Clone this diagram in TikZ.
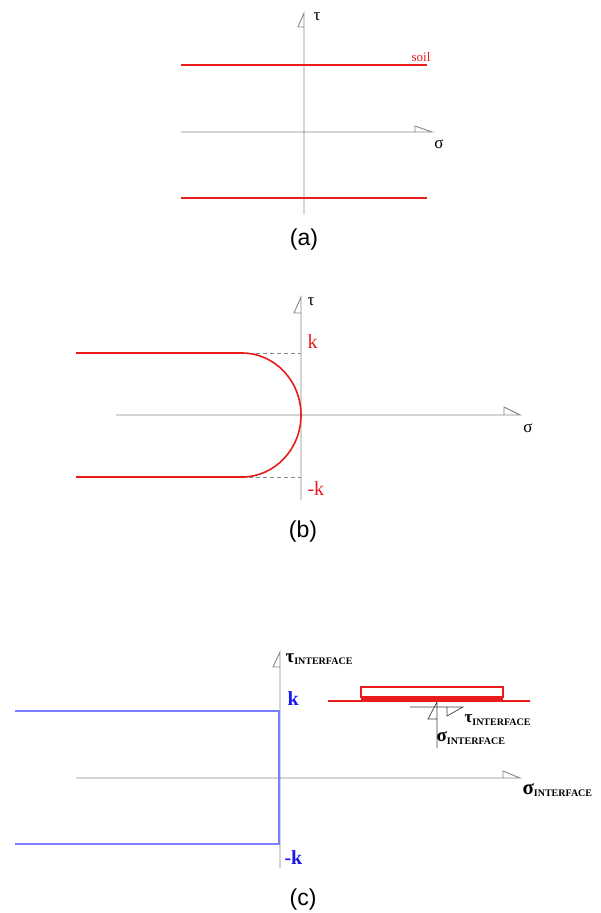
\documentclass[tikz,border=0pt]{standalone}
\usepackage{fontspec}
\setmainfont{Liberation Serif}
\newfontfamily\captionfont{Liberation Sans}
\definecolor{axisgray}{RGB}{135,135,135}
\definecolor{soilred}{RGB}{232,28,28}
\definecolor{ifaceblue}{RGB}{125,125,255}
\definecolor{kblue}{RGB}{25,25,235}
\newcommand{\iface}[1]{\textbf{#1\raisebox{-2.5pt}{\fontsize{10}{11}\selectfont INTERFACE}}}

\begin{document}
\begin{tikzpicture}[x=1pt, y=-1pt,
  axis/.style={draw=axisgray, line width=0.9pt},
  soil/.style={draw=soilred, line width=1.8pt},
  guide/.style={draw=axisgray, line width=0.8pt, dashed, dash pattern=on 4pt off 3pt},
  limit/.style={draw=ifaceblue, line width=1.3pt},
  greek/.style={font=\fontsize{17}{19}\selectfont},
  caption/.style={font=\captionfont\fontsize{23}{26}\selectfont}]
  \useasboundingbox (0,0) rectangle (600,913);

  % (a) soil
  \coordinate (aT) at (304,13);
  \coordinate (aB) at (304,214);
  \coordinate (aL) at (181,132);
  \coordinate (aR) at (432,132);
  \draw[axis] (aB) -- (aT) -- ++(-6,14) -- ++(6,0);
  \draw[axis] (aL) -- (aR) -- ++(-17,-6) -- ++(0,6);
  \draw[soil] (181,65) coordinate (aU1) -- (427,65) coordinate (aU2);
  \draw[soil] (181,198) coordinate (aD1) -- (427,198) coordinate (aD2);
  \node[greek, anchor=west] (tauA) at (310,17) {τ};
  \node[greek] (sigA) at (439,144) {σ};
  \node[text=soilred, font=\fontsize{13}{15}\selectfont] (soilA) at (421,57) {soil};
  \node[caption] (capA) at (304,240) {(a)};

  % (b) bounded shear
  \coordinate (bT) at (301,297);
  \coordinate (bB) at (301,500);
  \coordinate (bL) at (116,415);
  \coordinate (bR) at (520,415);
  \draw[axis] (bB) -- (bT) -- ++(-7,16) -- ++(7,0);
  \draw[axis] (bL) -- (bR) -- ++(-16,-8) -- ++(0,8);
  \coordinate (bU) at (242,353);
  \coordinate (bD) at (242,477);
  \draw[guide] (bU) -- (301,353);
  \draw[guide] (bD) -- (301,477);
  \draw[soil, line width=1.6pt] (76,353) -- (bU)
    arc[start angle=-90, end angle=90, x radius=59, y radius=62] -- (76,477);
  \node[greek, anchor=west] (tauB) at (304,302) {τ};
  \node[greek] (sigB) at (528,428) {σ};
  \node[text=soilred, anchor=west, font=\fontsize{20}{22}\selectfont] (kB) at (304,342) {k};
  \node[text=soilred, anchor=west, font=\fontsize{20}{22}\selectfont] (mkB) at (304,489) {-k};
  \node[caption] (capB) at (303,532) {(b)};

  % (c) interface
  \coordinate (cT) at (280,652);
  \coordinate (cB) at (280,868);
  \coordinate (cL) at (76,778);
  \coordinate (cR) at (520,778);
  \draw[axis] (cB) -- (cT) -- ++(-7,15) -- ++(7,0);
  \draw[axis] (cL) -- (cR) -- ++(-17,-7) -- ++(0,7);
  \draw[limit] (15,711) -- (279,711) -- (279,844) -- (15,844);
  \node[anchor=west, font=\fontsize{19}{21}\selectfont] (tauC) at (282,659) {\iface{τ}};
  \node[anchor=west, font=\fontsize{21}{23}\selectfont] (sigC) at (519,790) {\iface{σ}};
  \node[text=kblue, anchor=west, font=\fontsize{20}{22}\selectfont\bfseries] (kC) at (284,699) {k};
  \node[text=kblue, anchor=west, font=\fontsize{20}{22}\selectfont\bfseries] (mkC) at (281,858) {-k};
  % interface element
  \draw[color=soilred, line width=1.1pt] (328,701) -- (530,701);
  \draw[color=soilred, line width=1.1pt] (361,687) rectangle (503,697);
  \fill[soilred] (361,697) rectangle (503,701.5);
  \draw[black!75, line width=0.7pt] (410,707) -- (463,707) -- ++(-16,9) -- ++(0,-9);
  \draw[black!75, line width=0.7pt] (437,748) -- (437,702) -- ++(-9,17) -- ++(9,0);
  \node[anchor=west, font=\fontsize{17}{19}\selectfont] (tauE) at (461,720) {\iface{τ}};
  \node[anchor=west, font=\fontsize{19}{21}\selectfont] (sigE) at (433,738) {\iface{σ}};
  \node[caption] (capC) at (303,900) {(c)};
\end{tikzpicture}
\end{document}
